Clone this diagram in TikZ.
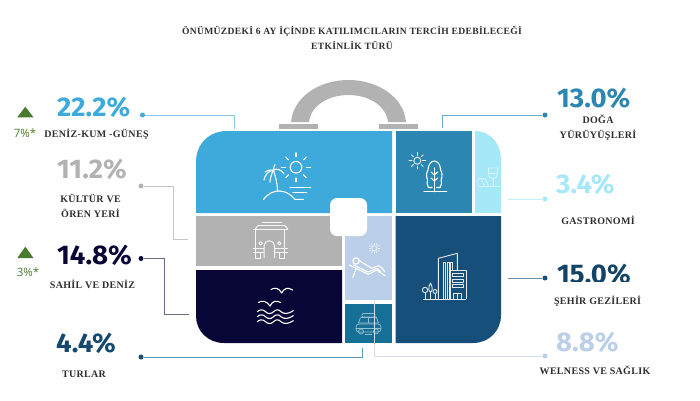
\documentclass[tikz,border=0pt]{standalone}
\usepackage{fontspec}
\setmainfont{Liberation Serif}
\newfontfamily\pctfont[FakeStretch=1.02]{Fira Sans}
\newfontfamily\labfont[LetterSpace=3.2]{Liberation Serif}
\newfontfamily\smallsans{Open Sans}
\definecolor{cBlue}{HTML}{3EA9DB}
\definecolor{cMid}{HTML}{2C86B2}
\definecolor{cCyan}{HTML}{A5E8F8}
\definecolor{cGray}{HTML}{B2B2B2}
\definecolor{cNavy}{HTML}{080636}
\definecolor{cPeri}{HTML}{BBCFE8}
\definecolor{cTeal}{HTML}{166F95}
\definecolor{cDark}{HTML}{16507A}
\definecolor{cTxt}{HTML}{2E2E2E}
\definecolor{cGreen}{HTML}{4A7A2E}
\tikzset{
  pct/.style={anchor=base west,inner sep=0pt,font=\pctfont\bfseries\fontsize{27}{27}\selectfont},
  lab/.style={anchor=center,inner sep=0pt,align=center,text=cTxt,font=\labfont\bfseries\fontsize{10}{15}\selectfont},
  ttl/.style={anchor=center,inner sep=0pt,align=center,text=cTxt,font=\labfont\bfseries\fontsize{9.6}{15}\selectfont},
  chg/.style={anchor=center,inner sep=0pt,text=cGreen,font=\smallsans\fontsize{11.5}{12}\selectfont},
  dotn/.style={circle,inner sep=0pt,minimum size=5pt,fill=#1},
  conn/.style={line width=1pt,draw=#1},
  ico/.style={draw=white,line width=1.1pt,line cap=round,line join=round},
}
\begin{document}
\begin{tikzpicture}[x=1pt,y=-1pt]
\useasboundingbox (0,0) rectangle (700,400);
% handle
\fill[cGray] (291,122) .. controls (293,98) and (318,80) .. (348.5,80)
  .. controls (379,80) and (404,98) .. (406,122) -- (388,122)
  .. controls (386,105) and (368,95) .. (348.5,95)
  .. controls (329,95) and (311,105) .. (309,122) -- cycle;
\fill[cGray] (279,124) rectangle (318,129);
\fill[cGray] (379,124) rectangle (418,129);
% panels
\fill[cBlue] (392,213) -- (196,213) -- (196,162) .. controls (196,144) and (209,131) .. (227,131) -- (392,131) -- cycle;
\fill[cMid] (395.5,131) rectangle (472,213);
\fill[cCyan] (475,131) .. controls (490,131) and (501,143) .. (501,160) -- (501,213) -- (475,213) -- cycle;
\fill[cGray] (196,216) rectangle (342,266);
\fill[cNavy] (196,270) -- (342,270) -- (342,343) -- (224,343) .. controls (208,343) and (196,331) .. (196,316) -- cycle;
\fill[cPeri] (345,216) rectangle (392,300);
\fill[cTeal] (345,304) rectangle (392,343);
\fill[cDark] (395.5,216) -- (501,216) -- (501,315) .. controls (501,331) and (489,343) .. (473,343) -- (395.5,343) -- cycle;
\fill[white,rounded corners=7pt] (330,198) rectangle (367,236);
% beach icon
\draw[ico] (296,167.3) circle (5.8);
\foreach \a in {0,45,...,315}{\draw[ico] (296,167.3) ++(\a:10.7) -- ++(\a:3.8);}
\draw[ico] (277.7,191.3) .. controls (277,182) and (275,175) .. (273.5,170);
\draw[ico] (273.5,170) .. controls (268,171) and (265,175) .. (264,180);
\draw[ico] (273.5,170) .. controls (277,168) and (282,170) .. (284,174);
\draw[ico] (273.5,170) .. controls (270,170) and (267,170) .. (265,172);
\draw[ico] (273.5,170) .. controls (272,173) and (270,178) .. (270,182);
\draw[ico] (273.5,170) .. controls (274,167) and (274,166) .. (275,164.5);
\draw[ico] (263.5,199.5) .. controls (268,193) and (275,190.5) .. (280,191) .. controls (287,191.5) and (291,195) .. (295,199.3) -- (303.3,199.3);
\draw[ico] (290,187.7) -- (310.7,187.7);
\draw[ico] (293,192.7) -- (306.7,192.7);
% tree icon
\draw[ico,line width=.8pt] (417.3,160.7) circle (3.5);
\foreach \a in {0,45,...,315}{\draw[ico,line width=.8pt] (417.3,160.7) ++(\a:5.3) -- ++(\a:3);}
\draw[ico] (432,187.5) -- (428.5,187.5) .. controls (426.5,185) and (427,182) .. (427.5,180)
  .. controls (426,176) and (426.5,172) .. (428,170) .. controls (428,165) and (431,161) .. (434.3,161)
  .. controls (437.6,161) and (440.6,165) .. (440.6,170) .. controls (442.1,172) and (442.6,176) .. (441.1,180)
  .. controls (441.6,182) and (442.1,185) .. (440.1,187.5) -- (436.6,187.5);
\draw[ico] (434.3,168) -- (434.3,191.7);
\draw[ico] (431,172) -- (434.3,175) -- (437.6,172);
\draw[ico] (431,178) -- (434.3,181) -- (437.6,178);
\draw[ico] (424,191.7) -- (446.7,191.7);
% gastronomy icon
\begin{scope}[draw=white!60!cCyan,line width=.8pt,line join=round]
\draw (488.5,168) -- (497.5,168) -- (497.5,174) .. controls (497.5,177) and (495.5,178.5) .. (493,178.5) .. controls (490.5,178.5) and (488.5,177) .. (488.5,174) -- cycle;
\draw (488.5,173) -- (497.5,173);
\draw (493,178.5) -- (493,186.7);
\draw (486,186.7) -- (500,186.7);
\draw[rounded corners=1.5pt] (478,178.5) -- (485,178.5) -- (489,186.7) -- (478,186.7) -- cycle;
\draw (481,178.5) -- (485,186.7);
\end{scope}
% arch icon
\begin{scope}[draw=white!88!cGray,line width=1pt,line join=round]
\draw (262,222.5) -- (281.5,222.5);
\draw (258,225.5) -- (285,225.5);
\draw (258,225.5) -- (255,229.3);
\draw (285,225.5) -- (288,229.3);
\draw (252.5,229.3) -- (287.5,229.3);
\draw (255,229.3) -- (255,258.3) -- (260,258.3) -- (260,252);
\draw (284,229.3) -- (284,258.3) -- (279,258.3) -- (279,252);
\draw (264,258) -- (264,246) arc (180:360:5.3) -- (274.6,258);
\draw (260.7,243.3) circle (1.7);
\draw (279.3,243.3) circle (1.7);
\draw (252.5,248.5) -- (264,248.5);
\draw (274.6,248.5) -- (287.5,248.5);
\draw (252.5,252) -- (264,252);
\draw (274.6,252) -- (287.5,252);
\end{scope}
% sea icon
\draw[ico] (271,289.5) .. controls (275,287) and (279,288) .. (281.7,293) .. controls (284,288) and (288,287) .. (292.7,290);
\draw[ico] (258.3,302.5) .. controls (262,300) and (267,301) .. (270,306) .. controls (272.5,301) and (276,300) .. (280.7,302.5);
\foreach \yy in {311.7,316.7,321.7}{
 \draw[ico] (257.3,\yy) .. controls (260,\yy-2.5) and (263,\yy-2.5) .. (265.5,\yy) .. controls (268,\yy+2.5) and (271,\yy+2.5) .. (273.5,\yy)
 .. controls (276,\yy-2.5) and (279,\yy-2.5) .. (281,\yy) .. controls (284,\yy+2.5) and (288,\yy+2.5) .. (293.3,\yy-1);
}
% lounger icon
\draw[white!70!cPeri,line width=.7pt] (374.3,248.3) circle (2.6);
\foreach \a in {0,30,...,330}{\draw[white!70!cPeri,line width=.7pt] (374.3,248.3) ++(\a:3.4) -- ++(\a:2.3);}
\draw[ico] (356,261) circle (3.2);
\draw[ico] (359,260.5) -- (371.7,268.3) -- (378.3,265.7) .. controls (381,266) and (383,269) .. (384.5,271.5);
\draw[ico] (353.5,265) -- (368,272) -- (377,268.5) -- (381,272);
\draw[ico] (349.3,265) -- (368.3,274.3) -- (376.7,270) -- (385,275.7);
\draw[ico] (356,269) -- (352.7,277.7);
% car icon
\begin{scope}[draw=white!55!cTeal,line width=.7pt,line join=round]
\draw[rounded corners=1pt] (362,313.5) rectangle (375,317);
\draw (360.5,317.5) -- (376.5,317.5);
\draw (360.5,317.5) -- (358.5,323) -- (378.5,323) -- (376.5,317.5);
\draw (368.5,317.5) -- (368.5,323);
\draw[rounded corners=3pt] (356,332) -- (356,324) -- (381,324) -- (381,332) -- cycle;
\draw (356,328) -- (381,328);
\draw (361,331.5) circle (2.5);
\draw (376,331.5) circle (2.5);
\draw (365,334) -- (372,334);
\end{scope}
% city icon
\begin{scope}[draw=white!88!cDark,line width=.9pt,line join=round]
\draw (422.7,299.3) -- (466,299.3);
\draw (438.3,299.3) -- (438.3,258.3) -- (457.3,253.3) -- (457.3,270);
\draw (443.5,299) -- (443.5,262) -- (445.5,262) -- (445.5,299);
\draw (447,299) -- (447,262) -- (449,262) -- (449,299);
\draw (450.5,270) -- (450.5,262) -- (452.5,262) -- (452.5,270);
\draw (450,299.3) -- (450,270) -- (466,270) -- (466,299.3);
\foreach \yy in {273.5,279,284.5}{\draw (452.5,\yy) rectangle (463.5,\yy+3);}
\draw (453,299.3) -- (453,293) -- (461.5,293) -- (461.5,299.3);
\draw (457.3,293) -- (457.3,299.3);
\draw (425,290) circle (2.7);
\draw (425,292.7) -- (425,299.3);
\draw (430.5,292) .. controls (428.5,292) and (428,287) .. (430.5,283) .. controls (433,287) and (432.5,292) .. (430.5,292) -- (430.5,299.3);
\draw (435,291.5) circle (2);
\draw (435,293.5) -- (435,299.3);
\end{scope}
% triangles
\fill[cGreen] (25.3,106.7) -- (33.5,117.3) -- (17.3,117.3) -- cycle;
\fill[cGreen] (25.3,246.7) -- (33.5,258) -- (17.3,258) -- cycle;
\node[chg] (ch1) at (25,133) {7\%*};
\node[chg] (ch2) at (28,272) {3\%*};
% title
\node[ttl] (title) at (352,37.5) {ÖNÜMÜZDEKİ 6 AY İÇİNDE KATILIMCILARIN TERCİH EDEBİLECEĞİ\\ETKİNLİK TÜRÜ};
% percentages
\node[pct,text=cBlue] (p1) at (57,116) {22.2\%};
\node[pct,text=cGray] (p2) at (57,178) {11.2\%};
\node[pct,text=cNavy] (p3) at (57,264) {14.8\%};
\node[pct,text=cDark!90!black] (p4) at (56,352.7) {4.4\%};
\node[pct,text=cMid] (p5) at (557,107) {13.0\%};
\node[pct,text=cCyan] (p6) at (556,193) {3.4\%};
\node[pct,text=cDark!85!black] (p7) at (557,283) {15.0\%};
\fill[white] (550,281.8) rectangle (640,288);
\node[pct,text=cPeri] (p8) at (556,351.7) {8.8\%};
% labels
\node[lab] (l1) at (96.5,134) {DENİZ-KUM -GÜNEŞ};
\node[lab] (l2) at (90.5,205.5) {KÜLTÜR VE\\ÖREN YERİ};
\node[lab] (l3) at (92.5,284) {SAHİL VE DENİZ};
\node[lab] (l4) at (84,374) {TURLAR};
\node[lab] (l5) at (598,128) {DOĞA\\YÜRÜYÜŞLERİ};
\node[lab] (l6) at (598,220) {GASTRONOMİ};
\node[lab] (l7) at (597.5,301.7) {ŞEHİR GEZİLERİ};
\node[lab] (l8) at (595,370) {WELNESS VE SAĞLIK};
% connectors
\node[dotn=cBlue] (d1) at (142.5,115) {};
\node[dotn=cGray] (d2) at (141,186) {};
\node[dotn=cNavy] (d3) at (141,258.5) {};
\node[dotn=cDark] (d4) at (141,357) {};
\node[dotn=cMid] (d5) at (545,115) {};
\node[dotn=cCyan] (d6) at (545,199) {};
\node[dotn=cDark] (d7) at (545,278) {};
\node[dotn=cPeri] (d8) at (545,356) {};
\coordinate (e1) at (234,129);
\coordinate (e2) at (188,239);
\coordinate (e3) at (189,314);
\coordinate (e4) at (362,348);
\coordinate (e5) at (442,128);
\coordinate (e6) at (508,199);
\coordinate (e7) at (508,278);
\coordinate (e8) at (374,300);
\coordinate (k2) at (173.5,239);
\coordinate (k3) at (164.5,314);
\draw[conn=cBlue!60!white] (d1) -| (e1);
\draw[conn=cGray!75!white] (d2) -| (k2) -- (e2);
\draw[conn=cNavy!60!white] (d3) -| (k3) -- (e3);
\draw[conn=cTeal!70!white] (d4) -| (e4);
\draw[conn=cMid!70!white] (d5) -| (e5);
\draw[conn=cCyan!70!white] (d6) -- (e6);
\draw[conn=cDark!65!white] (d7) -- (e7);
\draw[conn=cPeri!70!white] (d8) -| (e8);
\end{tikzpicture}
\end{document}
